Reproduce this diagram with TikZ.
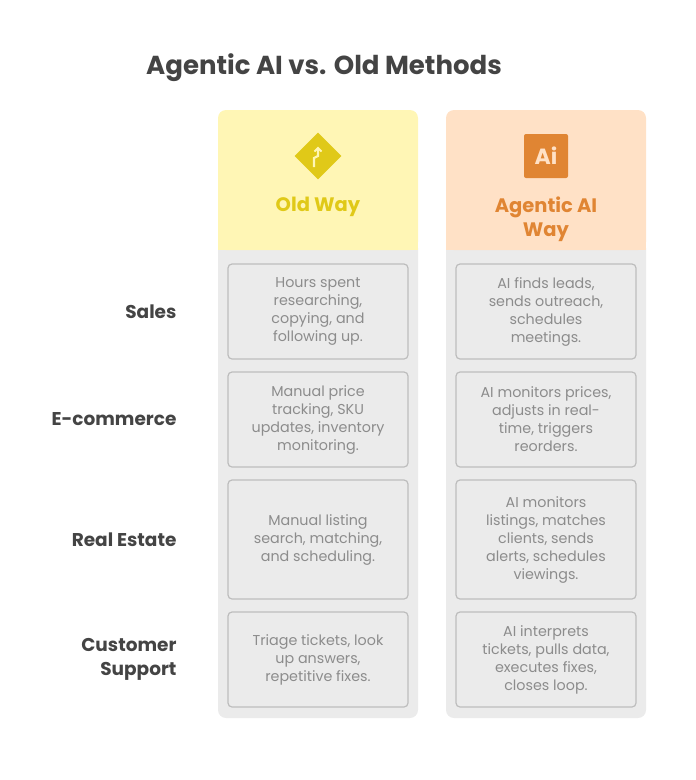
\documentclass[tikz,border=0pt]{standalone}
\usepackage{fontspec}
\setmainfont{Poppins}
\usetikzlibrary{shapes.geometric}
\definecolor{ylw}{HTML}{FFF6B5}
\definecolor{ylwd}{HTML}{E0C918}
\definecolor{org}{HTML}{FFE1C6}
\definecolor{orgd}{HTML}{E08533}
\definecolor{colbg}{HTML}{EBEBEB}
\definecolor{cellb}{HTML}{BDBDBD}
\definecolor{celltxt}{HTML}{8C8C8C}
\definecolor{lbl}{HTML}{444444}
\tikzset{
 cell/.style={draw=cellb,line width=1.2pt,fill=colbg,rounded corners=4pt,text=celltxt,align=center,font=\fontsize{14.3}{18}\selectfont,inner sep=0pt},
 rowlbl/.style={anchor=east,align=right,text=lbl,font=\bfseries\fontsize{18.5}{24}\selectfont},
 head/.style={font=\bfseries\fontsize{19.5}{24}\selectfont,align=center}
}
\begin{document}
\begin{tikzpicture}[x=1pt,y=-1pt]
\useasboundingbox (0,0) rectangle (696,780);
\node[text=lbl,font=\bfseries\fontsize{26}{28}\selectfont] (title) at (324,68) {Agentic AI vs. Old Methods};
% columns
\fill[colbg,rounded corners=8pt] (218,240) rectangle (418,718);
\fill[colbg,rounded corners=8pt] (446,240) rectangle (646,718);
\fill[ylw,rounded corners=8pt] (218,110) rectangle (418,250);
\fill[ylw] (218,200) rectangle (418,250);
\fill[org,rounded corners=8pt] (446,110) rectangle (646,250);
\fill[org] (446,200) rectangle (646,250);
% icons
\node[diamond,fill=ylwd,minimum width=47pt,minimum height=47pt,inner sep=0pt] (ico1) at (318,156) {};
\draw[ylw,line width=2.2pt] (314,167) -- (314,158) -- (318,156) -- (318,149);
\draw[ylw,line width=2pt] (314.5,151.5) -- (318,148) -- (321.5,151.5);
\node[fill=orgd,rounded corners=2pt,minimum width=44pt,minimum height=44pt,inner sep=0pt,text=org,font=\bfseries\fontsize{22}{24}\selectfont] (ico2) at (546,156) {Ai};
\node[head,text=ylwd] (h1) at (318,207) {Old Way};
\node[head,text=orgd] (h2) at (546,219) {Agentic AI\\Way};
% rows
\foreach \n/\a/\b/\l/\t/\u in {
 1/264/359/{Sales}/{Hours spent\\researching,\\copying, and\\following up.}/{AI finds leads,\\sends outreach,\\schedules\\meetings.},
 2/372/467/{E-commerce}/{Manual price\\tracking, SKU\\updates, inventory\\monitoring.}/{AI monitors prices,\\adjusts in real-\\time, triggers\\reorders.},
 3/480/599/{Real Estate}/{Manual listing\\search, matching,\\and scheduling.}/{AI monitors\\listings, matches\\clients, sends\\alerts, schedules\\viewings.},
 4/612/707/{Customer\\Support}/{Triage tickets, look\\up answers,\\repetitive fixes.}/{AI interprets\\tickets, pulls data,\\executes fixes,\\closes loop.}}{
 \node[cell,minimum width=180pt,minimum height={\b-\a}] (o\n) at (318,{(\a+\b)/2}) {\t};
 \node[cell,minimum width=180pt,minimum height={\b-\a}] (n\n) at (546,{(\a+\b)/2}) {\u};
 \node[rowlbl] (r\n) at (180,{(\a+\b)/2}) {\l};
}
\end{tikzpicture}
\end{document}
